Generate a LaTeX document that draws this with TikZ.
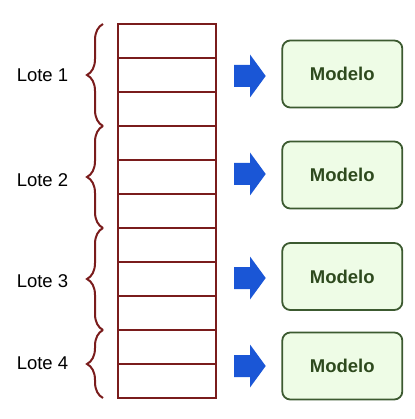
\documentclass[tikz,border=0pt]{standalone}
\usepackage{fontspec}
\setmainfont{Liberation Sans}
\usetikzlibrary{decorations.pathreplacing}
\definecolor{rowred}{HTML}{7A1C1C}
\definecolor{arrowblue}{HTML}{1A56D6}
\definecolor{boxfill}{HTML}{EEFCE6}
\definecolor{boxline}{HTML}{3C5A30}
\definecolor{boxtext}{HTML}{2E4A1E}
\tikzset{
  rowbox/.style={draw=rowred, line width=2pt, minimum width=98pt, minimum height=34pt, inner sep=0pt, outer sep=0pt},
  lotelabel/.style={font=\fontsize{18.5}{22}\selectfont, text=black, inner sep=0pt},
  bracebox/.style={draw=rowred, line width=2pt, decorate, decoration={brace, amplitude=16pt}},
  blockarrow/.style={fill=arrowblue, draw=none},
  modelbox/.style={draw=boxline, fill=boxfill, line width=1.8pt, rounded corners=8pt, minimum width=120pt, minimum height=67pt, inner sep=0pt, font=\fontsize{18.5}{22}\selectfont\bfseries, text=boxtext}
}
\newcommand{\blockarr}[1]{%
  \fill[blockarrow] (#1) ++(-16,-11) -- ++(16,0) -- ++(0,-10.5) -- ++(15.7,21.5) -- ++(-15.7,21.5) -- ++(0,-10.5) -- ++(-16,0) -- cycle;}
\begin{document}
\begin{tikzpicture}[x=1pt, y=-1pt]
\useasboundingbox (0,0) rectangle (414,419);
% rows
\foreach \i in {1,...,11} {
  \node[rowbox] (r\i) at (166.5, {24+34*(\i-0.5)}) {};
}
% braces
\coordinate (b1s) at (103,126); \coordinate (b1e) at (103,24);
\coordinate (b2s) at (103,228); \coordinate (b2e) at (103,126);
\coordinate (b3s) at (103,330); \coordinate (b3e) at (103,228);
\coordinate (b4s) at (103,398); \coordinate (b4e) at (103,330);
\draw[bracebox] (b1s) -- (b1e);
\draw[bracebox] (b2s) -- (b2e);
\draw[bracebox] (b3s) -- (b3e);
\draw[bracebox] (b4s) -- (b4e);
% labels
\node[lotelabel] (l1) at (42.5,75) {Lote 1};
\node[lotelabel] (l2) at (42.5,180) {Lote 2};
\node[lotelabel] (l3) at (42.5,281) {Lote 3};
\node[lotelabel] (l4) at (42.5,363) {Lote 4};
% arrows
\coordinate (a1) at (250,76);
\coordinate (a2) at (250,174);
\coordinate (a3) at (250,278);
\coordinate (a4) at (250,366);
\blockarr{a1}
\blockarr{a2}
\blockarr{a3}
\blockarr{a4}
% models
\node[modelbox] (m1) at (342.3,74) {Modelo};
\node[modelbox] (m2) at (342.3,175) {Modelo};
\node[modelbox] (m3) at (342.3,276.5) {Modelo};
\node[modelbox] (m4) at (342.3,366) {Modelo};
\end{tikzpicture}
\end{document}
